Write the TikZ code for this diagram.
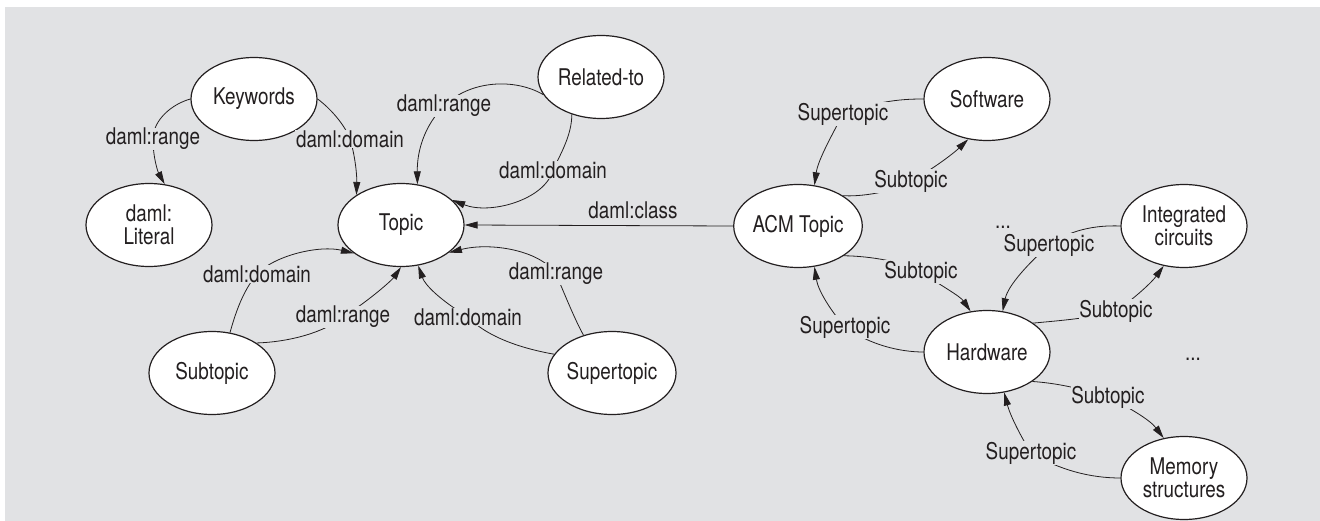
\documentclass[tikz,border=0pt]{standalone}
\usepackage{fontspec}
\setmainfont[FakeStretch=0.82]{TeX Gyre Heros}
\usetikzlibrary{arrows.meta,shapes.geometric}
\definecolor{bg}{RGB}{225,226,228}
\definecolor{ink}{RGB}{35,31,32}
\begin{document}
\begin{tikzpicture}[x=1pt,y=-1pt,
  every node/.style={font=\fontsize{23}{23.5}\selectfont, text=ink},
  ent/.style={ellipse, draw=ink, line width=1.2pt, fill=white, minimum width=126pt, minimum height=83pt, inner sep=0pt, align=center},
  lbl/.style={fill=bg, inner sep=0.6pt},
  arr/.style={draw=ink, line width=0.8pt, -{Triangle[length=13pt,width=7pt]}}]
\useasboundingbox (0,0) rectangle (1320,521);
\fill[white] (0,0) rectangle (1320,521);
\fill[bg] (5,7) rectangle (1320,521);

% entities
\node[ent] (K) at (254,99) {Keywords};
\node[ent] (L) at (149,225) {daml:\\Literal};
\node[ent] (T) at (401,225) {Topic};
\node[ent] (R) at (601,77) {Related-to};
\node[ent] (S) at (212,373) {Subtopic};
\node[ent] (P) at (612,373) {Supertopic};
\node[ent] (A) at (798,226) {ACM Topic};
\node[ent] (W) at (987,99) {Software};
\node[ent] (I) at (1184,226) {Integrated\\circuits};
\node[ent] (H) at (987,352) {Hardware};
\node[ent] (M) at (1184,478) {Memory\\structures};

% label positions
\coordinate (l1) at (153,139);
\coordinate (l2) at (350,139);
\coordinate (l3) at (444,106);
\coordinate (l4) at (553,170);
\coordinate (l5) at (257,274);
\coordinate (l6) at (343,317);
\coordinate (l7) at (468,317);
\coordinate (l8) at (556,274);
\coordinate (l9) at (633,210);
\coordinate (l10) at (843,114);
\coordinate (l11) at (911,181);
\coordinate (l12) at (921,272);
\coordinate (l13) at (845,327);
\coordinate (l14) at (1049,245);
\coordinate (l15) at (1116,311);
\coordinate (l16) at (1108,397);
\coordinate (l17) at (1031,453);

% connectors
\draw[arr] (K.180) .. controls (172,104) and (153,120) .. (l1) .. controls (153,158) and (158,172) .. (L.69);
\draw[arr] (K.0) .. controls (330,108) and (345,125) .. (l2) .. controls (355,155) and (357,175) .. (T.146);
\draw[arr] (R.197) .. controls (515,78) and (470,80) .. (l3) .. controls (425,125) and (417,150) .. (T.68);
\draw[arr] (R.232) .. controls (572,135) and (560,155) .. (l4) .. controls (545,200) and (490,215) .. (T.26);
\draw[arr] (S.66) .. controls (235,315) and (242,292) .. (l5) .. controls (275,255) and (320,245) .. (T.211);
\draw[arr] (S.34) .. controls (290,342) and (325,332) .. (l6) .. controls (370,300) and (392,280) .. (T.270);
\draw[arr] (P.162) .. controls (530,350) and (490,340) .. (l7) .. controls (440,300) and (425,285) .. (T.293);
\draw[arr] (P.127) .. controls (575,320) and (565,295) .. (l8) .. controls (540,250) and (490,242) .. (T.330);
\draw[arr] (A.180) -- (T.0);

\draw[arr] (W.180) .. controls (905,99) and (880,100) .. (l10) .. controls (832,135) and (818,160) .. (A.68);
\draw[arr] (A.34) .. controls (860,197) and (895,192) .. (l11) .. controls (935,168) and (955,152) .. (W.245);
\draw[arr] (A.327) .. controls (870,256) and (905,262) .. (l12) .. controls (940,285) and (960,296) .. (H.112);
\draw[arr] (H.180) .. controls (900,352) and (870,345) .. (l13) .. controls (830,310) and (818,290) .. (A.292);
\draw[arr] (I.180) .. controls (1095,225) and (1070,230) .. (l14) .. controls (1030,262) and (1008,285) .. (H.69);
\draw[arr] (H.32) .. controls (1055,321) and (1095,318) .. (l15) .. controls (1135,298) and (1152,282) .. (I.243);
\draw[arr] (H.327) .. controls (1055,383) and (1080,388) .. (l16) .. controls (1130,408) and (1150,420) .. (M.117);
\draw[arr] (M.180) .. controls (1090,478) and (1060,470) .. (l17) .. controls (1020,435) and (1010,415) .. (H.293);

% labels
\node[lbl] at (l1) {daml:range};
\node[lbl] at (l2) {daml:domain};
\node[lbl] at (l3) {daml:range};
\node[lbl] at (l4) {daml:domain};
\node[lbl] at (l5) {daml:domain};
\node[lbl] at (l6) {daml:range};
\node[lbl] at (l7) {daml:domain};
\node[lbl] at (l8) {daml:range};
\node at (l9) {daml:class};
\node[lbl] at (l10) {Supertopic};
\node[lbl] at (l11) {Subtopic};
\node[lbl] at (l12) {Subtopic};
\node[lbl] at (l13) {Supertopic};
\node[lbl] at (l14) {Supertopic};
\node[lbl] at (l15) {Subtopic};
\node[lbl] at (l16) {Subtopic};
\node[lbl] at (l17) {Supertopic};
\node (d1) [anchor=base] at (1003,229) {...};
\node (d2) [anchor=base] at (1193,360) {...};
\end{tikzpicture}
\end{document}
